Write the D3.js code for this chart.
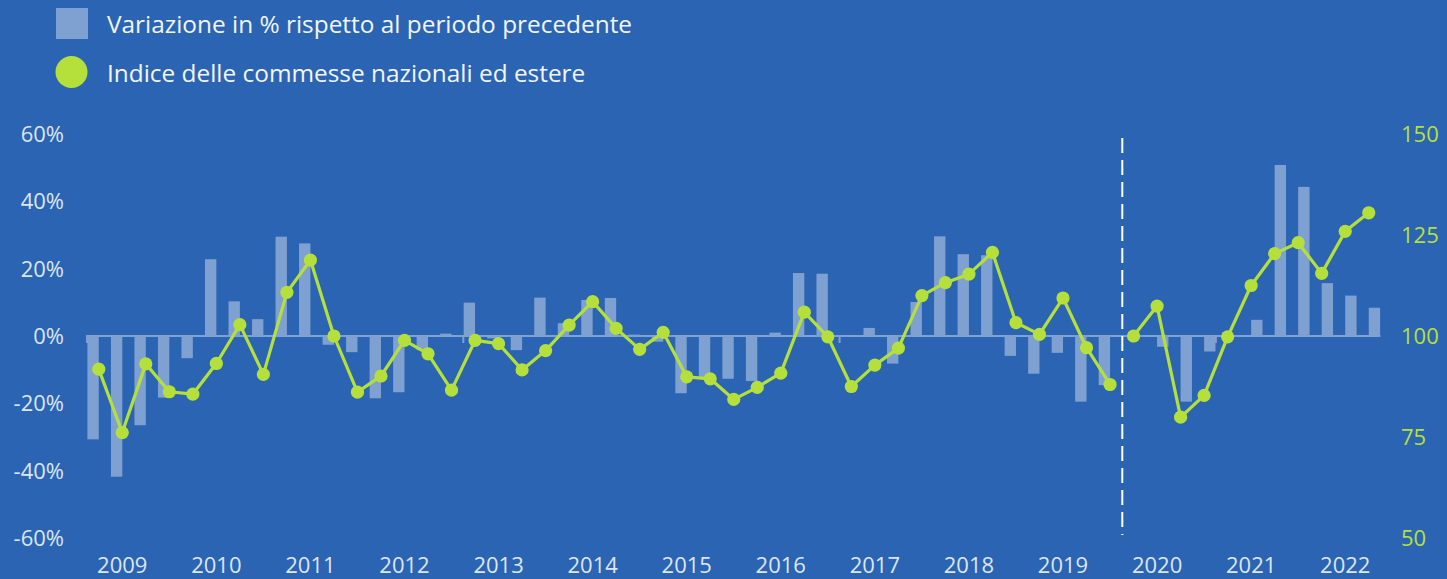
<!DOCTYPE html>
<html>
<head>
<meta charset="utf-8">
<script src="https://cdn.jsdelivr.net/npm/d3@7"></script>
<style>
  html, body { margin: 0; padding: 0; background: #2B64B2; }
  svg { display: block; font-family: "Open Sans", "Noto Sans", sans-serif; }
</style>
</head>
<body>
<svg id="chart" width="1447" height="579"></svg>
<script>
// trimestri: da 2008 T4 a 2022 T2
const quarters = [
  "2008 T4",
  "2009 T1", "2009 T2", "2009 T3", "2009 T4",
  "2010 T1", "2010 T2", "2010 T3", "2010 T4",
  "2011 T1", "2011 T2", "2011 T3", "2011 T4",
  "2012 T1", "2012 T2", "2012 T3", "2012 T4",
  "2013 T1", "2013 T2", "2013 T3", "2013 T4",
  "2014 T1", "2014 T2", "2014 T3", "2014 T4",
  "2015 T1", "2015 T2", "2015 T3", "2015 T4",
  "2016 T1", "2016 T2", "2016 T3", "2016 T4",
  "2017 T1", "2017 T2", "2017 T3", "2017 T4",
  "2018 T1", "2018 T2", "2018 T3", "2018 T4",
  "2019 T1", "2019 T2", "2019 T3", "2019 T4",
  "2020 T1", "2020 T2", "2020 T3", "2020 T4",
  "2021 T1", "2021 T2", "2021 T3", "2021 T4",
  "2022 T1", "2022 T2"
];

// variazione in % rispetto al periodo precedente
const pctChange = [
  -30.7, -41.8, -26.5, -18.3, -6.6, 22.8, 10.3, 5.0, 29.5, 27.5,
  -2.6, -4.8, -18.5, -16.7, -4.2, 0.7, 9.9, -0.7, -4.2, 11.4,
  3.8, 10.7, 11.3, 0.4, -1.7, -17.0, -12.3, -12.7, -13.4, 1.0,
  18.7, 18.5, 0.0, 2.4, -8.2, 10.1, 29.6, 24.3, 24.0, -5.9,
  -11.2, -5.0, -19.5, -14.6,
  0.0, -3.2, -19.5, -4.6, 0.3, 4.8, 50.8, 44.3, 15.7, 12.0, 8.4
];

// indice delle commesse, vecchia serie (fino al 2019 T3)
const indexOld = [
  91.8, 76.1, 93.1, 86.2, 85.6, 93.2, 102.8, 90.5, 110.8, 118.8,
  100.0, 86.1, 90.1, 98.9, 95.6, 86.6, 98.9, 98.1, 91.6, 96.4,
  102.7, 108.5, 101.9, 96.7, 100.9, 89.9, 89.4, 84.3, 87.3, 90.8,
  105.9, 99.8, 87.5, 92.8, 97.0, 110.0, 113.2, 115.3, 120.7, 103.3,
  100.4, 109.4, 97.1, 88.0
];

// nuova serie (base 2019 T4 = 100)
const indexNew = [100.0, 107.4, 79.9, 85.3, 99.8, 112.5, 120.4, 123.1, 115.5, 125.9, 130.5];

const pctTicks = [-60, -40, -20, 0, 20, 40, 60];
const indexTicks = [50, 75, 100, 125, 150];
const yearLabels = ["2009", "2010", "2011", "2012", "2013", "2014", "2015",
                    "2016", "2017", "2018", "2019", "2020", "2021", "2022"];

const legendLabels = [
  "Variazione in % rispetto al periodo precedente",
  "Indice delle commesse nazionali ed estere"
];

const BG = "#2B64B2", BAR = "#7FA1D1", GREEN = "#B5E03C", TXT = "#DCE6F5";

const svg = d3.select("#chart");
svg.append("rect").attr("width", 1447).attr("height", 579).attr("fill", BG);

const breakAt = indexOld.length;

const x = d3.scaleBand().domain(quarters).range([87, 1380.5]).paddingInner(0).paddingOuter(0);
const y = d3.scaleLinear().domain([-60, 60]).range([538, 134]);
const y2 = d3.scaleLinear().domain([50, 150]).range([538, 134]);
const half = x.bandwidth() / 2;
const cx = q => x(q) + half;

// barre: vecchia serie a sinistra del centro, nuova serie a destra
svg.append("g").selectAll("rect")
  .data(pctChange)
  .join("rect")
  .attr("x", (d, i) => i < breakAt ? x(quarters[i]) + 0.4 : cx(quarters[i]))
  .attr("width", half - 0.4)
  .attr("y", d => y(Math.max(0, d)))
  .attr("height", d => Math.abs(y(d) - y(0)))
  .attr("fill", BAR);

// linea dello zero
svg.append("line")
  .attr("x1", 86).attr("x2", 1380.5)
  .attr("y1", y(0)).attr("y2", y(0))
  .attr("stroke", BAR).attr("stroke-width", 2);

svg.append("g").selectAll("line")
  .data([0, 16, 32, 48])
  .join("line")
  .attr("x1", i => x(quarters[i])).attr("x2", i => x(quarters[i]))
  .attr("y1", y(0)).attr("y2", y(0) + 7)
  .attr("stroke", BAR).attr("stroke-width", 2);

// linea tratteggiata di rottura di serie
const xBreak = (cx(quarters[breakAt - 1]) + cx(quarters[breakAt])) / 2 + 0.5;
svg.append("line")
  .attr("x1", xBreak).attr("x2", xBreak)
  .attr("y1", 138).attr("y2", 535)
  .attr("stroke", "#FFFFFF").attr("stroke-width", 2)
  .attr("stroke-dasharray", "15 7");

// indice
const line = d3.line().x(d => cx(d.q)).y(d => y2(d.v));
const oldPts = indexOld.map((v, i) => ({ q: quarters[i], v }));
const newPts = indexNew.map((v, i) => ({ q: quarters[breakAt + i], v }));

[oldPts, newPts].forEach(pts => {
  svg.append("path")
    .datum(pts)
    .attr("d", line)
    .attr("fill", "none")
    .attr("stroke", GREEN)
    .attr("stroke-width", 3.2)
    .attr("stroke-linejoin", "round");
  svg.append("g").selectAll("circle")
    .data(pts)
    .join("circle")
    .attr("cx", d => cx(d.q))
    .attr("cy", d => y2(d.v))
    .attr("r", 6.6)
    .attr("fill", GREEN);
});

// assi
svg.append("g").selectAll("text")
  .data(pctTicks)
  .join("text")
  .attr("x", 64).attr("y", d => y(d) + 8)
  .attr("text-anchor", "end")
  .attr("font-size", 22)
  .attr("fill", TXT)
  .text(d => d + "%");

svg.append("g").selectAll("text")
  .data(indexTicks)
  .join("text")
  .attr("x", 1401).attr("y", d => y2(d) + 8)
  .attr("font-size", 22)
  .attr("fill", GREEN)
  .text(d => d);

svg.append("g").selectAll("text")
  .data(yearLabels)
  .join("text")
  .attr("x", d => cx(d + " T1"))
  .attr("y", 573)
  .attr("text-anchor", "middle")
  .attr("font-size", 22)
  .attr("fill", TXT)
  .text(d => d);

// legenda
const legend = svg.append("g");
legend.append("rect").attr("x", 56).attr("y", 8).attr("width", 32).attr("height", 31).attr("fill", BAR);
legend.append("circle").attr("cx", 71.5).attr("cy", 72).attr("r", 16).attr("fill", GREEN);
legend.selectAll("text")
  .data(legendLabels)
  .join("text")
  .attr("x", 107)
  .attr("y", (d, i) => 33 + i * 49)
  .attr("font-size", 24.4)
  .attr("fill", "#F2F6FB")
  .text(d => d);
</script>
</body>
</html>
